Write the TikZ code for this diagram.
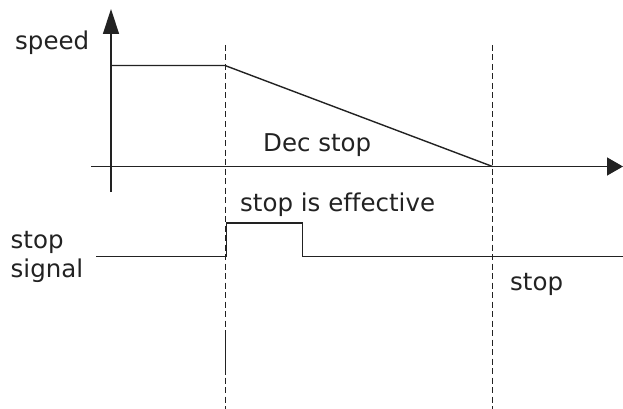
\documentclass[tikz,border=0pt]{standalone}
\usepackage{fontspec}
\setmainfont[Ligatures={NoCommon}]{DejaVu Sans}
\usetikzlibrary{arrows.meta}
\definecolor{ink}{HTML}{222222}
\tikzset{
  x=1pt,y=-1pt,
  sig/.style={draw=ink,line width=1.4pt},
  guide/.style={draw=ink,line width=1.4pt,dash pattern=on 6pt off 3.5pt},
  lbl/.style={inner sep=0pt,anchor=base west,text=ink,font=\fontsize{24.5}{28.4}\selectfont},
}
\begin{document}
\begin{tikzpicture}
\useasboundingbox (0,0) rectangle (623,409);
% coordinates
\coordinate (yb) at (111,192);
\coordinate (yt) at (111,9);
\coordinate (xl) at (91,166.5);
\coordinate (xr) at (623,166.5);
\coordinate (s0) at (111,65.5);
\coordinate (s1) at (225,65.5);
\coordinate (s2) at (492.5,166.5);
\coordinate (d1t) at (225.5,45);
\coordinate (d1b) at (225.5,409);
\coordinate (d2t) at (492.5,45);
\coordinate (d2b) at (492.5,409);
\coordinate (m0) at (96,256.5);
\coordinate (m1) at (226.5,256.5);
\coordinate (m2) at (226.5,223);
\coordinate (m3) at (302.5,223);
\coordinate (m4) at (302.5,256.5);
\coordinate (m5) at (623,256.5);
% guides
\draw[guide] (d1t) -- (d1b);
\draw[guide] (d2t) -- (d2b);
\draw[draw=ink,line width=1.3pt] (225.5,330) -- (225.5,375);
% axes
\draw[sig,-{Triangle[length=25pt,width=16pt]}] (yb) -- (yt);
\draw[sig,-{Triangle[length=16pt,width=18pt]}] (xl) -- (xr);
% speed profile
\draw[sig] (s0) -- (s1) -- (s2);
% stop signal
\draw[sig] (m0) -- (m1) -- (m2) -- (m3) -- (m4) -- (m5);
% labels
\node[lbl] (speed) at (15,50) {speed};
\node[lbl] (dec) at (263,151.5) {Dec stop};
\node[lbl] (eff) at (240,211.5) {stop is effective};
\node[lbl] (stopsig1) at (10.5,248.5) {stop};
\node[lbl] (stopsig2) at (10.5,277) {signal};
\node[lbl] (stop) at (510,290) {stop};
\end{tikzpicture}
\end{document}
